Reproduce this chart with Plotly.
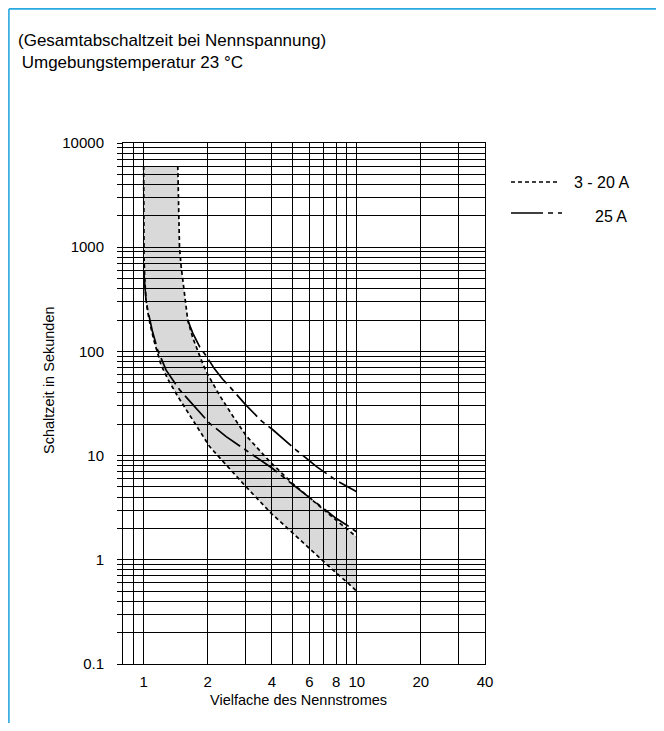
import math
import plotly.graph_objects as go

# ---------------- data ----------------
# 3 - 20 A band, lower (left) boundary
band_lo_x = [1.0, 1.0, 1.004, 1.012, 1.026, 1.045, 1.07, 1.12, 1.207, 1.30, 1.446, 1.70,
             2.04, 2.5, 3.03, 4.0, 5.0, 6.0, 7.0, 8.0, 9.0, 10.0]
band_lo_y = [6000, 1500, 800, 500, 312, 240, 185, 125, 74, 54, 37, 22,
             12.2, 7.7, 5.0, 2.75, 1.8, 1.3, 0.95, 0.75, 0.61, 0.5]
# 3 - 20 A band, upper (right) boundary
band_hi_x = [1.446, 1.46, 1.473, 1.50, 1.53, 1.56, 1.61, 1.70, 1.80, 1.90, 2.0, 2.27,
             2.62, 3.03, 3.9, 5.0, 6.0, 7.0, 8.0, 9.0, 10.0]
band_hi_y = [6000, 2500, 1000, 650, 450, 320, 200, 135, 100, 75, 60, 38,
             24, 15.5, 8.8, 5.4, 3.95, 3.0, 2.4, 1.98, 1.65]
# 25 A, lower curve
a25_lo_x = [1.0, 1.01, 1.026, 1.045, 1.064, 1.10, 1.164, 1.275, 1.472, 1.70, 2.04, 2.44,
            3.03, 4.0, 5.0, 6.0, 7.0, 8.0, 9.0, 10.0]
a25_lo_y = [600, 450, 312, 250, 205, 155, 103, 66, 43, 30.6, 20.4, 15.2,
            11.2, 7.6, 5.3, 3.95, 3.05, 2.5, 2.15, 1.85]
# 25 A, upper curve
a25_hi_x = [1.61, 1.70, 1.83, 1.97, 2.15, 2.35, 2.53, 3.0, 3.57, 4.0, 5.2, 6.5, 8.0, 10.0]
a25_hi_y = [200, 150, 111, 90, 68, 54, 46, 31, 21.5, 18.0, 11.3, 7.8, 5.8, 4.5]

# axis ticks
x_tickvals = [0.9, 1, 2, 3, 4, 5, 6, 7, 8, 9, 10, 20, 30, 40]
x_ticktext = ["", "1", "2", "", "4", "", "6", "", "8", "", "10", "20", "", "40"]
y_decades = [0.1, 1, 10, 100, 1000]
y_decade_labels = ["0.1", "1", "10", "100", "1000", "10000"]
y_tickvals = [d * k for d in y_decades for k in range(1, 10)] + [10000]
y_ticktext = []
for d, lab in zip(y_decades, y_decade_labels):
    y_ticktext += [lab] + [""] * 8
y_ticktext.append(y_decade_labels[-1])

legend_labels = ["3 - 20 A", "25 A"]
title_lines = ["(Gesamtabschaltzeit bei Nennspannung)", " Umgebungstemperatur 23 °C"]
x_title = "Vielfache des Nennstromes"
y_title = "Schaltzeit in Sekunden"

# ---------------- layout geometry (page pixels, body margin 8px) ----------------
OFF = 8
W_FIG, H_FIG = 664 - 2 * OFF, 731 - 2 * OFF
PLOT_L, PLOT_R, PLOT_T, PLOT_B = 123, 485, 143, 664     # page coordinates
L = PLOT_L - OFF
T = PLOT_T - OFF
R = W_FIG - (PLOT_R - OFF)
B = H_FIG - (PLOT_B - OFF)
PW, PH = W_FIG - L - R, H_FIG - T - B


def px(xp):
    """page x pixel -> paper coordinate"""
    return (xp - OFF - L) / PW


def py(yp):
    """page y pixel -> paper coordinate"""
    return (T + PH - (yp - OFF)) / PH


FONT = "Liberation Sans, Arial, Helvetica, sans-serif"
DASH_320 = "4px,3px"
DASH_25 = "30px,5px,5px,5px"
LW = 1.7

fig = go.Figure()

# grey band
poly_x = band_lo_x + band_hi_x[::-1]
poly_y = band_lo_y + band_hi_y[::-1]
fig.add_trace(go.Scatter(x=poly_x, y=poly_y, mode="lines", fill="toself",
                         fillcolor="rgba(0,0,0,0.15)", line=dict(width=0),
                         hoverinfo="skip", showlegend=False))

for xs, ys, dash in [(band_lo_x, band_lo_y, DASH_320), (band_hi_x, band_hi_y, DASH_320),
                     (a25_lo_x, a25_lo_y, DASH_25), (a25_hi_x, a25_hi_y, DASH_25)]:
    fig.add_trace(go.Scatter(x=xs, y=ys, mode="lines",
                             line=dict(color="black", width=LW, dash=dash),
                             showlegend=False))

shapes = []
# blue frame (top and left)
fx0 = -L / PW + 0.9 / PW
fy0 = 1 + T / PH - 0.9 / PH
shapes.append(dict(type="line", xref="paper", yref="paper", x0=fx0, x1=px(664), y0=fy0, y1=fy0,
                   line=dict(color="#2aa8e0", width=1.6)))
shapes.append(dict(type="line", xref="paper", yref="paper", x0=fx0, x1=fx0, y0=fy0, y1=py(731),
                   line=dict(color="#2aa8e0", width=1.6)))
# legend samples
shapes.append(dict(type="line", xref="paper", yref="paper", x0=px(511), x1=px(558), y0=py(182), y1=py(182),
                   line=dict(color="black", width=LW, dash=DASH_320)))
shapes.append(dict(type="line", xref="paper", yref="paper", x0=px(511), x1=px(562), y0=py(213), y1=py(213),
                   line=dict(color="black", width=LW, dash="32px,5px,5px,5px,5px,5px")))

annotations = [
    dict(text=title_lines[0], x=px(16), y=py(40.5), xref="paper", yref="paper",
         xanchor="left", yanchor="middle", showarrow=False, font=dict(size=17)),
    dict(text=title_lines[1].replace(" ", "\u00a0", 1), x=px(15), y=py(62.5), xref="paper", yref="paper",
         xanchor="left", yanchor="middle", showarrow=False, font=dict(size=17)),
    dict(text=legend_labels[0], x=px(572), y=py(182), xref="paper", yref="paper",
         xanchor="left", yanchor="middle", showarrow=False, font=dict(size=16)),
    dict(text=legend_labels[1], x=px(629), y=py(217), xref="paper", yref="paper",
         xanchor="right", yanchor="middle", showarrow=False, font=dict(size=16)),
    dict(text=x_title, x=px(298), y=py(700), xref="paper", yref="paper",
         xanchor="center", yanchor="middle", showarrow=False, font=dict(size=14.5)),
    dict(text=y_title, x=px(49), y=py(380), xref="paper", yref="paper", textangle=-90,
         xanchor="center", yanchor="middle", showarrow=False, font=dict(size=14.5)),
]

fig.update_layout(
    width=W_FIG, height=H_FIG,
    margin=dict(l=L, r=R, t=T, b=B, pad=0),
    paper_bgcolor="white", plot_bgcolor="white",
    font=dict(family=FONT, color="black", size=15),
    showlegend=False,
    shapes=shapes, annotations=annotations,
    xaxis=dict(type="log", range=[math.log10(0.8), math.log10(40)],
               tickmode="array", tickvals=x_tickvals, ticktext=x_ticktext,
               showgrid=True, gridcolor="black", gridwidth=1,
               showline=True, linecolor="black", linewidth=1, mirror=True,
               ticks="outside", ticklen=4, tickcolor="rgba(0,0,0,0)",
               tickfont=dict(size=15), zeroline=False),
    yaxis=dict(type="log", range=[-1, 4],
               tickmode="array", tickvals=y_tickvals, ticktext=y_ticktext,
               showgrid=True, gridcolor="black", gridwidth=1,
               showline=True, linecolor="black", linewidth=1, mirror=True,
               ticks="outside", ticklen=5, tickcolor="black", tickwidth=1,
               ticklabelstandoff=10,
               tickfont=dict(size=15), zeroline=False),
)

fig.write_html("out.html")
